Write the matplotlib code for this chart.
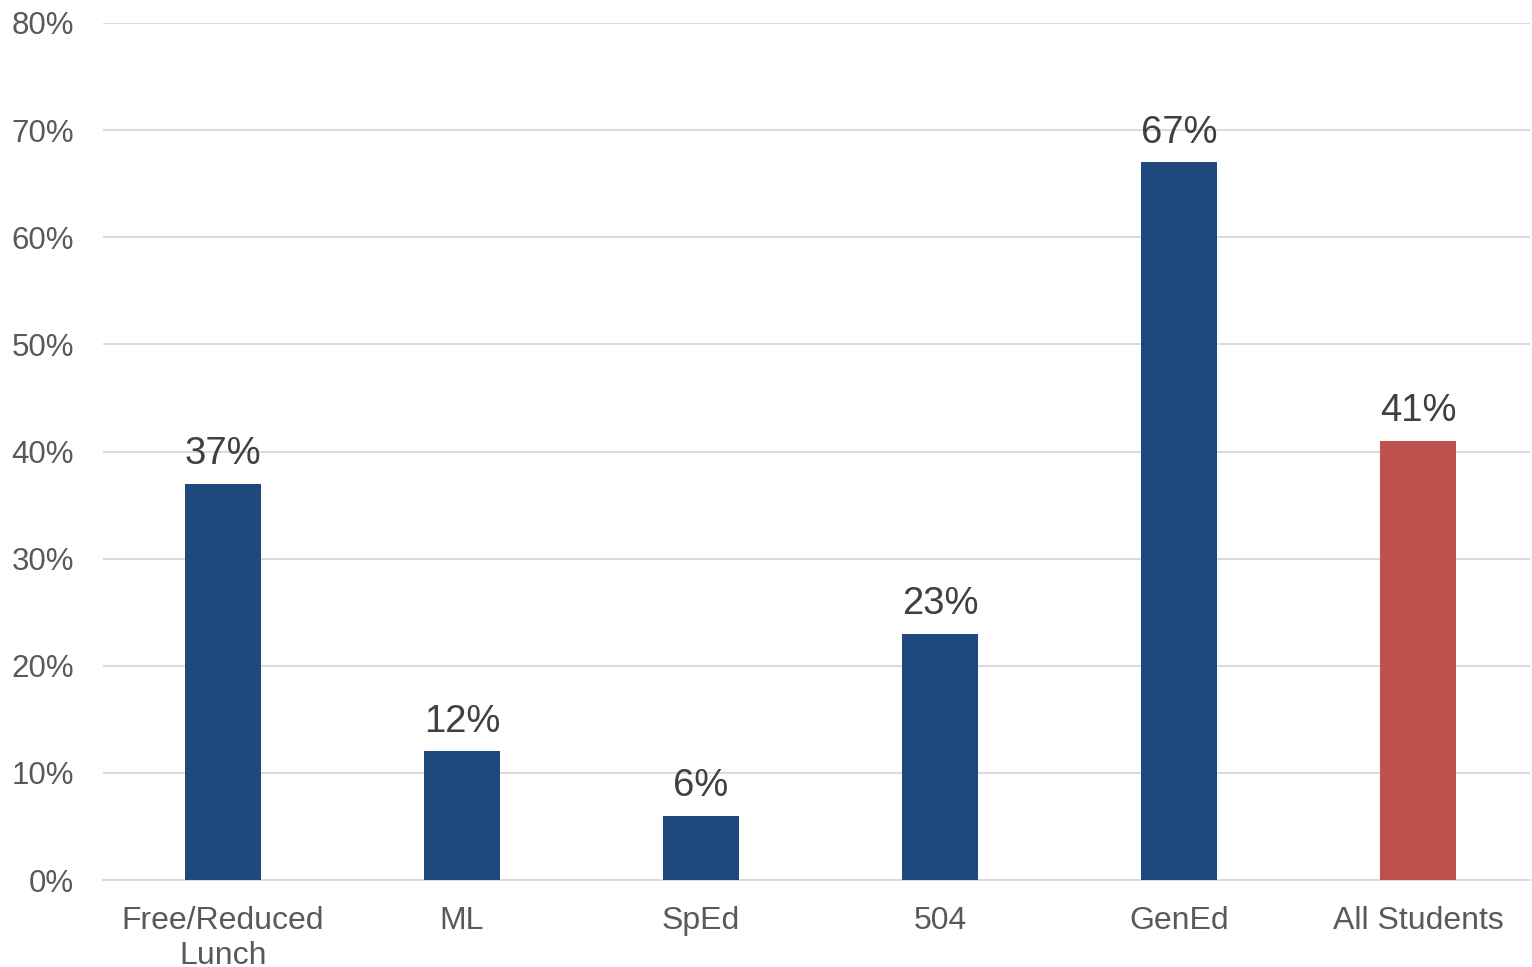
import matplotlib
matplotlib.use("Agg")
import matplotlib.pyplot as plt
from matplotlib.ticker import FuncFormatter

categories = ["Free/Reduced\nLunch", "ML", "SpEd", "504", "GenEd", "All Students"]
values = [37, 12, 6, 23, 67, 41]
bar_colors = ["#1F497D", "#1F497D", "#1F497D", "#1F497D", "#1F497D", "#C0504D"]
y_ticks = [0, 10, 20, 30, 40, 50, 60, 70, 80]

plt.rcParams['font.family'] = ['Liberation Sans', 'DejaVu Sans']

fig = plt.figure(figsize=(15.32, 9.67), dpi=100)
ax = fig.add_axes([103 / 1532, 1 - 880 / 967, 1427 / 1532, 857 / 967])

x = range(len(categories))
ax.bar(x, values, width=0.315, color=bar_colors, zorder=3)

for xi, v in zip(x, values):
    ax.annotate(f"{v}%", (xi, v), xytext=(0, 14), textcoords="offset points",
                ha="center", va="baseline", fontsize=27.5, color="#404040", zorder=4)

ax.set_xlim(-0.502, 5.469)
ax.set_ylim(0, 80)
ax.set_yticks(y_ticks)
ax.yaxis.set_major_formatter(FuncFormatter(lambda v, p: f"{v:.0f}%"))
ax.set_xticks(list(x))
ax.set_xticklabels(categories, linespacing=1.25)

ax.grid(axis="y", color="#D9D9D9", linewidth=1.4, zorder=0)
ax.tick_params(axis="y", length=0, pad=21, labelsize=22.5, labelcolor="#595959")
ax.tick_params(axis="x", length=0, pad=18.5, labelsize=23, labelcolor="#595959")
for s in ["top", "right", "left"]:
    ax.spines[s].set_visible(False)
ax.spines["bottom"].set_color("#D9D9D9")
ax.spines["bottom"].set_linewidth(1.4)

fig.savefig("out.png", dpi=100)
